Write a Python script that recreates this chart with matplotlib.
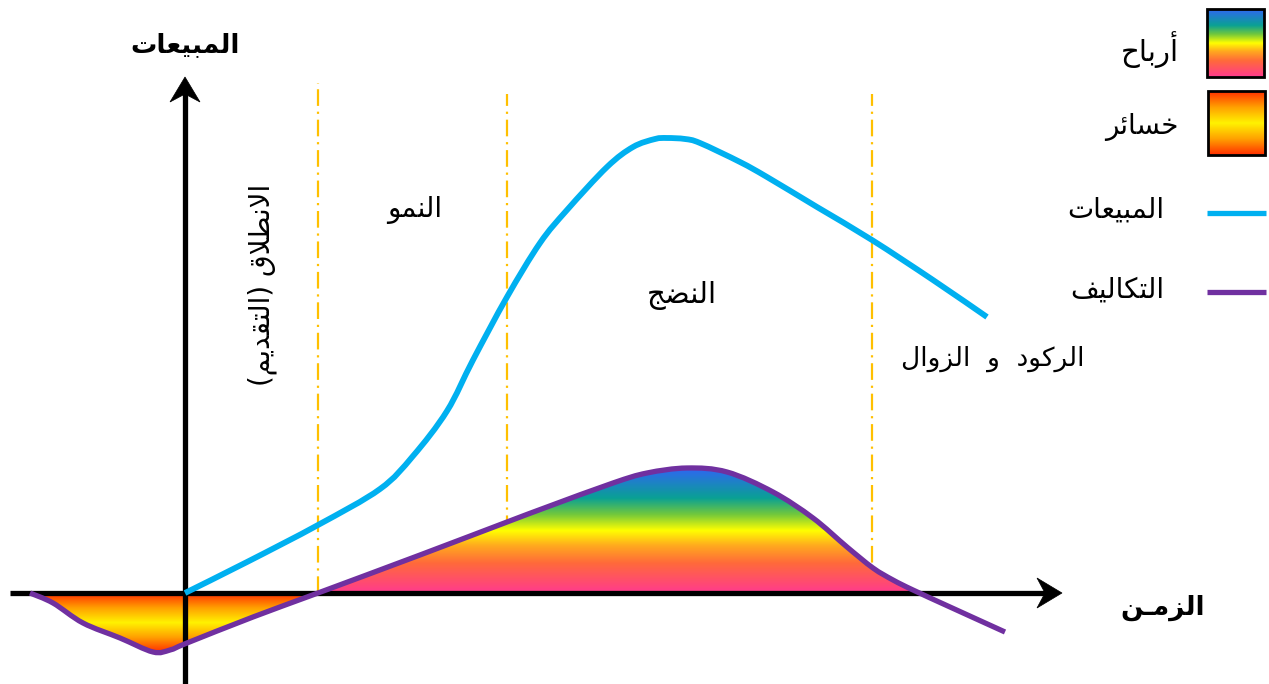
import numpy as np
import matplotlib
matplotlib.use("Agg")
import matplotlib.pyplot as plt
from matplotlib.colors import LinearSegmentedColormap
from matplotlib.patches import Rectangle, PathPatch, Polygon
from matplotlib.path import Path

# ---------------------------------------------------------------- data
# time axis (x) and value axis (y), origin at the axes crossing
sales_x = [0, 62, 133, 195, 228, 262, 288, 322, 355, 382, 422,
           448, 470, 482, 500, 515, 555, 582, 632, 687, 748, 802]
sales_y = [0, 31, 68, 104, 137, 182, 233, 296, 350, 383, 426,
           446, 454, 455, 454, 450, 431, 416, 386, 353, 313, 276]

cost_x = [-155, -132, -102, -65, -32, -15, 2, 68, 133, 235, 322, 362, 428,
          462, 502, 542, 588, 628, 662, 688, 708, 728, 765, 820]
cost_y = [0, -10, -30, -45, -59, -57, -50, -24, 0, 38, 71, 86, 110,
          120, 125, 121, 101, 75, 46, 25, 13, 3, -14, -39]

stage_bounds = [133, 322, 687]
stage_tops = [510, 499, 499]

stage_names = ["الانطلاق (التقديم)", "النمو", "النضج", "الركود  و  الزوال"]
axis_y_label = "المبيعات"
axis_x_label = "الزمـن"
legend_labels = ["أرباح", "خسائر", "المبيعات", "التكاليف"]

SALES_COLOR = "#00B0F0"
COST_COLOR = "#7030A0"
STAGE_COLOR = "#FFC000"

profit_cmap = LinearSegmentedColormap.from_list(
    "profit",
    [(0.00, "#FF3A8E"), (0.24, "#FF6A3A"), (0.38, "#FFAA1E"),
     (0.50, "#FFFF00"), (0.63, "#72C83C"), (0.76, "#0AA194"),
     (1.00, "#2F66F2")])
loss_cmap = LinearSegmentedColormap.from_list(
    "loss",
    [(0.00, "#FF2E00"), (0.25, "#FFA000"), (0.50, "#FFF200"),
     (0.75, "#FFA000"), (1.00, "#FF2E00")])

# ---------------------------------------------------------------- arabic text
_ISO = {
    "آ": (0xFE81, "R"), "أ": (0xFE83, "R"), "ؤ": (0xFE85, "R"),
    "إ": (0xFE87, "R"), "ئ": (0xFE89, "D"), "ا": (0xFE8D, "R"),
    "ب": (0xFE8F, "D"), "ة": (0xFE93, "R"), "ت": (0xFE95, "D"),
    "ث": (0xFE99, "D"), "ج": (0xFE9D, "D"), "ح": (0xFEA1, "D"),
    "خ": (0xFEA5, "D"), "د": (0xFEA9, "R"), "ذ": (0xFEAB, "R"),
    "ر": (0xFEAD, "R"), "ز": (0xFEAF, "R"), "س": (0xFEB1, "D"),
    "ش": (0xFEB5, "D"), "ص": (0xFEB9, "D"), "ض": (0xFEBD, "D"),
    "ط": (0xFEC1, "D"), "ظ": (0xFEC5, "D"), "ع": (0xFEC9, "D"),
    "غ": (0xFECD, "D"), "ف": (0xFED1, "D"), "ق": (0xFED5, "D"),
    "ك": (0xFED9, "D"), "ل": (0xFEDD, "D"), "م": (0xFEE1, "D"),
    "ن": (0xFEE5, "D"), "ه": (0xFEE9, "D"), "و": (0xFEED, "R"),
    "ى": (0xFEEF, "R"), "ي": (0xFEF1, "D"),
}
_LAM_ALEF = {"آ": 0xFEF5, "أ": 0xFEF7, "إ": 0xFEF9, "ا": 0xFEFB}
_MIRROR = {"(": ")", ")": "("}


def _jt(c):
    if c == "ـ":
        return "C"
    if c in _ISO:
        return _ISO[c][1]
    return "U"


def ar(text):
    """Contextual letter forms + right-to-left visual order."""
    out = []
    n = len(text)
    i = 0
    while i < n:
        c = text[i]
        prev_joins = i > 0 and _jt(text[i - 1]) in ("D", "C")
        if c == "ل" and i + 1 < n and text[i + 1] in _LAM_ALEF:
            out.append(chr(_LAM_ALEF[text[i + 1]] + (1 if prev_joins else 0)))
            i += 2
            continue
        t = _jt(c)
        if t in ("D", "R"):
            nxt = text[i + 1] if i + 1 < n else None
            next_joins = t == "D" and nxt is not None and _jt(nxt) in ("D", "R", "C")
            base = _ISO[c][0]
            if prev_joins and next_joins:
                g = base + 3
            elif prev_joins:
                g = base + 1
            elif next_joins:
                g = base + 2
            else:
                g = base
            out.append(chr(g))
        else:
            out.append(c)
        i += 1
    return "".join(_MIRROR.get(ch, ch) for ch in reversed(out))


def smooth_path(x, y, close_to_axis=False):
    """Cubic Bezier path (Catmull-Rom tangents) through the given points."""
    pts = np.column_stack([x, y]).astype(float)
    P = np.vstack([pts[0], pts, pts[-1]])
    verts = [pts[0]]
    codes = [Path.MOVETO]
    for i in range(1, len(P) - 2):
        p0, p1, p2, p3 = P[i - 1], P[i], P[i + 1], P[i + 2]
        verts += [p1 + (p2 - p0) / 6.0, p2 - (p3 - p1) / 6.0, p2]
        codes += [Path.CURVE4] * 3
    if close_to_axis:
        verts += [(pts[-1, 0], 0.0), (pts[0, 0], 0.0), pts[0]]
        codes += [Path.LINETO, Path.LINETO, Path.CLOSEPOLY]
    return Path(np.array(verts), codes)


plt.rcParams["font.family"] = ["DejaVu Sans"]

# ---------------------------------------------------------------- figure
fig = plt.figure(figsize=(12.69, 6.84), dpi=100)
ax = fig.add_axes([0, 0, 1, 1])
ax.set_xlim(-185, 1084)
ax.set_ylim(-91, 593)
ax.axis("off")

cx, cy = np.asarray(cost_x, float), np.asarray(cost_y, float)

# stage boundaries
for xb, top in zip(stage_bounds, stage_tops):
    ax.plot([xb, xb], [0, top], color=STAGE_COLOR, lw=1.6,
            linestyle=(0, (7.5, 2.6, 1.0, 2.6)), zorder=1)

# gradient areas between the cost curve and the time axis
clip = smooth_path(cost_x, cost_y, close_to_axis=True)
grad = np.linspace(0, 1, 256).reshape(-1, 1)
split = stage_bounds[0]
im_profit = ax.imshow(grad, cmap=profit_cmap, origin="lower", aspect="auto",
                      extent=[split, cx.max(), 0, cy.max()], zorder=2,
                      interpolation="bilinear")
im_profit.set_clip_path(clip, transform=ax.transData)
im_loss = ax.imshow(grad, cmap=loss_cmap, origin="lower", aspect="auto",
                    extent=[cx.min(), split, cy[cx <= split].min(), 0], zorder=2,
                    interpolation="bilinear")
im_loss.set_clip_path(clip, transform=ax.transData)

# axes with notched arrow heads
AX_LW = 3.8
ax.plot([-175, 860], [0, 0], color="black", lw=AX_LW, solid_capstyle="butt", zorder=3)
ax.plot([0, 0], [-95, 500], color="black", lw=AX_LW, solid_capstyle="butt", zorder=3)
ax.add_patch(Polygon([(877, 0), (852, 15), (860, 0), (852, -15)],
                     closed=True, fc="black", ec="black", lw=0.5, zorder=3))
ax.add_patch(Polygon([(0, 516), (-15, 491), (0, 499), (15, 491)],
                     closed=True, fc="black", ec="black", lw=0.5, zorder=3))

# curves
ax.add_patch(PathPatch(smooth_path(cost_x, cost_y), fill=False, ec=COST_COLOR,
                       lw=3.8, capstyle="butt", joinstyle="round", zorder=4))
ax.add_patch(PathPatch(smooth_path(sales_x, sales_y), fill=False, ec=SALES_COLOR,
                       lw=4.2, capstyle="butt", joinstyle="round", zorder=5))

# stage names
ax.text(77, 308, ar(stage_names[0]), rotation=90, fontsize=20,
        ha="center", va="center")
ax.text(230, 383, ar(stage_names[1]), fontsize=20, ha="center", va="center")
ax.text(497, 298, ar(stage_names[2]), fontsize=21, ha="center", va="center")
ax.text(808, 234, ar(stage_names[3]), fontsize=19, ha="center", va="center")

# axis titles
ax.text(0, 548, ar(axis_y_label), fontsize=19, fontweight="bold",
        ha="center", va="center")
ax.text(978, -15, ar(axis_x_label), fontsize=19, fontweight="bold",
        ha="center", va="center")

# legend (text on the left of each key)
lx0, lx1 = 1022, 1079
ax.imshow(grad, cmap=profit_cmap, origin="lower", aspect="auto",
          extent=[lx0, lx1, 516, 584], zorder=5, interpolation="bilinear")
ax.imshow(grad, cmap=loss_cmap, origin="lower", aspect="auto",
          extent=[lx0 + 1, lx1 + 1, 438, 502], zorder=5, interpolation="bilinear")
ax.add_patch(Rectangle((lx0, 516), lx1 - lx0, 68, fill=False, ec="black", lw=2, zorder=6))
ax.add_patch(Rectangle((lx0 + 1, 438), lx1 - lx0, 64, fill=False, ec="black", lw=2, zorder=6))
ax.plot([lx0, lx1 + 2], [380, 380], color=SALES_COLOR, lw=3.8, solid_capstyle="butt")
ax.plot([lx0, lx1 + 2], [301, 301], color=COST_COLOR, lw=3.8, solid_capstyle="butt")
ax.text(994, 543, ar(legend_labels[0]), fontsize=21, ha="right", va="center")
ax.text(994, 466, ar(legend_labels[1]), fontsize=20, ha="right", va="center")
ax.text(979, 383, ar(legend_labels[2]), fontsize=20, ha="right", va="center")
ax.text(979, 303, ar(legend_labels[3]), fontsize=20, ha="right", va="center")
ax.set_xlim(-185, 1084)
ax.set_ylim(-91, 593)

fig.savefig("out.png", dpi=100, facecolor="white")
